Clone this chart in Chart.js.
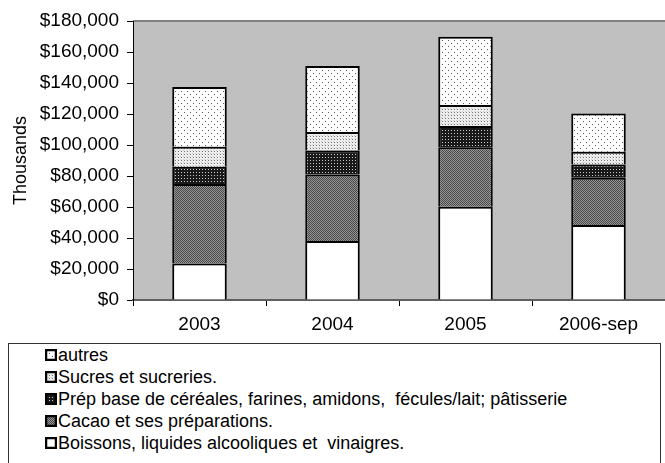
<!DOCTYPE html>
<html>
<head>
<meta charset="utf-8">
<script src="https://cdn.jsdelivr.net/npm/chart.js@4/dist/chart.umd.min.js"></script>
<style>
  body { margin: 0; background: #fff; font-family: "Liberation Sans", Arial, sans-serif; }
  #wrap { position: relative; width: 665px; height: 463px; overflow: hidden; }
  #chartBox { position: absolute; left: 0; top: 0; width: 665px; height: 343px; }
  #legend {
    position: absolute; left: 8px; top: 343px; width: 653px; height: 140px;
    border: 1px solid #333; box-sizing: border-box;
  }
  .item { position: absolute; left: 36px; height: 22px; line-height: 22px; font-size: 18px; color: #000; white-space: pre; }
  .item canvas { position: absolute; left: 0; top: 5px; }
  .item span { position: absolute; left: 13px; top: 0; }
</style>
</head>
<body>
<div id="wrap">
  <div id="chartBox"><canvas id="chart"></canvas></div>
  <div id="legend"></div>
</div>
<script>
// categories and series (in thousands of $)
const years = ['2003', '2004', '2005', '2006-sep'];
const seriesNames = [
  'Boissons, liquides alcooliques et  vinaigres.',
  'Cacao et ses préparations.',
  'Prép base de céréales, farines, amidons,  fécules/lait; pâtisserie',
  'Sucres et sucreries.',
  'autres',
];
const boissons = [23500, 38000, 60200, 48400];
const cacao = [51400, 43000, 38300, 30500];
const prep = [11000, 15400, 13800, 8600];
const sucres = [13000, 12000, 13500, 8200];
const autres = [38500, 42500, 44100, 24700];
const yTicks = [0, 20000, 40000, 60000, 80000, 100000, 120000, 140000, 160000, 180000];

// === pattern fills ===
function makePattern(size, bg, dots) {
  const c = document.createElement('canvas');
  c.width = size; c.height = size;
  const g = c.getContext('2d');
  g.fillStyle = bg;
  g.fillRect(0, 0, size, size);
  dots.forEach(([x, y, col]) => {
    g.fillStyle = col;
    g.fillRect(x, y, 1, 1);
  });
  return c;
}

const tiles = [
  makePattern(2, '#ffffff', []),
  makePattern(2, '#969696', [[0, 0, '#484848'], [1, 1, '#484848']]),
  makePattern(3, '#1a1a1a', [[1, 1, '#c8c8c8']]),
  makePattern(3, '#eeeeee', [[1, 1, '#767676'], [0, 0, '#cccccc']]),
  makePattern(6, '#ffffff', [[1, 1, '#5a5a5a'], [4, 4, '#5a5a5a']]),
];

const ctx = document.getElementById('chart').getContext('2d');
const fills = tiles.map((t) => ctx.createPattern(t, 'repeat'));

const plotBg = {
  id: 'plotBg',
  beforeDraw(chart) {
    const {ctx, chartArea: a} = chart;
    ctx.save();
    ctx.fillStyle = '#c0c0c0';
    ctx.fillRect(a.left, a.top, a.right - a.left, a.bottom - a.top);
    ctx.strokeStyle = '#808080';
    ctx.lineWidth = 2;
    ctx.beginPath();
    ctx.moveTo(a.left, a.top);
    ctx.lineTo(a.right, a.top);
    ctx.stroke();
    ctx.restore();
  },
};

const dataLists = [boissons, cacao, prep, sucres, autres];
const axisFont = {family: 'Liberation Sans', size: 19};

const chart = new Chart(ctx, {
  type: 'bar',
  data: {
    labels: years,
    datasets: dataLists.map((d, i) => ({
      label: seriesNames[i],
      data: d,
      backgroundColor: fills[i],
      borderColor: '#000',
      borderWidth: 2,
      barPercentage: 0.41,
      categoryPercentage: 1,
    })),
  },
  options: {
    responsive: true,
    maintainAspectRatio: false,
    animation: false,
    layout: {padding: {top: 21, right: 0, left: 0, bottom: 0}},
    plugins: {legend: {display: false}, tooltip: {enabled: false}},
    scales: {
      x: {
        stacked: true,
        grid: {drawOnChartArea: false, color: '#000', tickLength: 6, offset: true},
        border: {color: '#606060', width: 2},
        ticks: {color: '#000', padding: 7, font: axisFont},
        afterFit: (s) => { s.height = 43; },
      },
      y: {
        stacked: true,
        min: 0,
        max: 180000,
        afterBuildTicks: (s) => { s.ticks = yTicks.map((v) => ({value: v})); },
        grid: {drawOnChartArea: false, color: '#000', tickLength: 6},
        border: {color: '#000', width: 1},
        ticks: {
          color: '#000',
          padding: 8,
          font: axisFont,
          callback: (v) => '$' + Number(v).toLocaleString('en-US'),
        },
        title: {
          display: true,
          text: 'Thousands',
          color: '#000',
          font: {family: 'Liberation Sans', size: 18},
          padding: {top: 10, bottom: 0},
        },
        afterFit: (s) => { s.width = 133; },
      },
    },
  },
  plugins: [plotBg],
});

// === legend (top item = last series) ===
const legendEl = document.getElementById('legend');
chart.data.datasets.slice().reverse().forEach((ds, i) => {
  const item = document.createElement('div');
  item.className = 'item';
  item.style.top = (i * 22) + 'px';
  const sw = document.createElement('canvas');
  sw.width = 12; sw.height = 12;
  const g = sw.getContext('2d');
  g.fillStyle = g.createPattern(tiles[dataLists.length - 1 - i], 'repeat');
  g.fillRect(0, 0, 12, 12);
  g.strokeStyle = '#000';
  g.lineWidth = 2.5;
  g.strokeRect(1, 1, 10, 10);
  const label = document.createElement('span');
  label.textContent = ds.label;
  item.appendChild(sw);
  item.appendChild(label);
  legendEl.appendChild(item);
});
</script>
</body>
</html>
